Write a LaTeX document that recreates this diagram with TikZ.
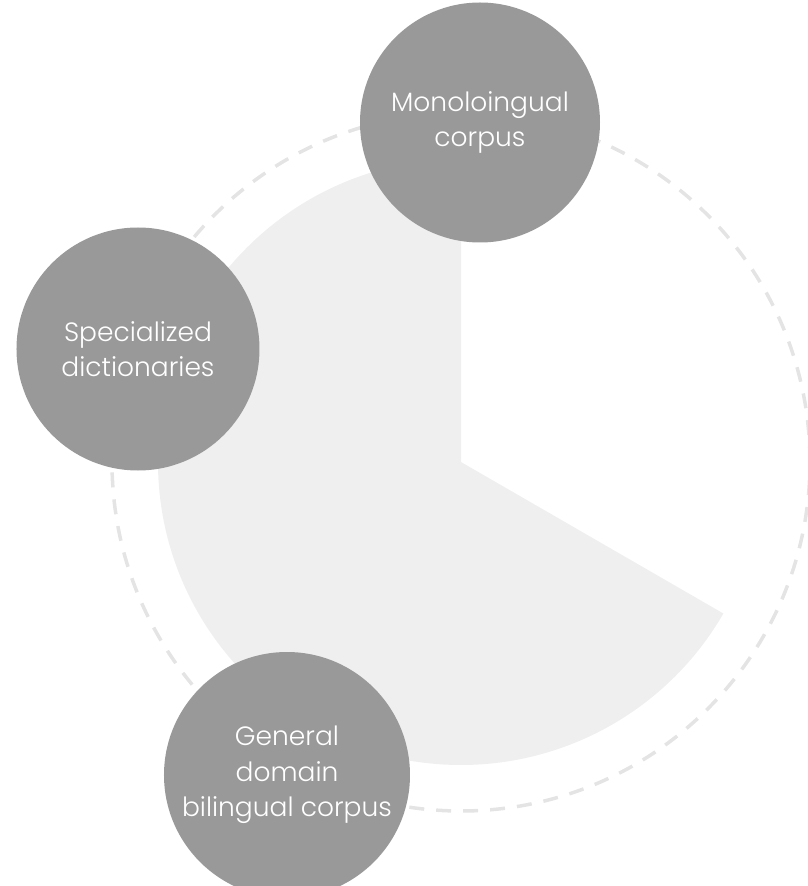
\documentclass[tikz,border=0pt]{standalone}
\usepackage{fontspec}
\usepackage{tikz}
\newfontfamily\bubblefont{Poppins Light}
\definecolor{bubblegray}{HTML}{999999}
\definecolor{wedgegray}{HTML}{EFEFEF}
\definecolor{dashgray}{HTML}{E4E4E4}
\pgfmathsetmacro{\ringradius}{349}
\pgfmathsetmacro{\wedgeradius}{303}
\tikzset{
  bubble/.style={circle, fill=bubblegray, inner sep=0pt,
    minimum size=2*#1 pt, text=white, align=center,
    font=\bubblefont\fontsize{26.5}{35.5}\selectfont},
  bubble/.default=122,
}

\begin{document}
\begin{tikzpicture}[x=1pt, y=1pt]
    \useasboundingbox (-461,-424) rectangle (346,462);
    % define centre
    \coordinate (centre) at (0, 0);
    % draw ring and wedge
    \draw[dashgray, line width=3.5pt, dash pattern=on 15pt off 12pt]
        (centre) circle[radius=\ringradius pt];
    \fill[wedgegray] (centre) -- ++(90:\wedgeradius pt)
        arc[start angle=90, end angle=330, radius=\wedgeradius pt] -- cycle;
    % add sources
    \node[bubble=120] (mono_corpus) at (19, 339.5) {Monoloingual\\corpus};
    \node[bubble=121.5] (spec_dict) at (-323, 113) {Specialized\\dictionaries};
    \node[bubble=123] (gen_corpus) at (-174, -313) {General\\domain\\bilingual corpus};
\end{tikzpicture}
\end{document}
